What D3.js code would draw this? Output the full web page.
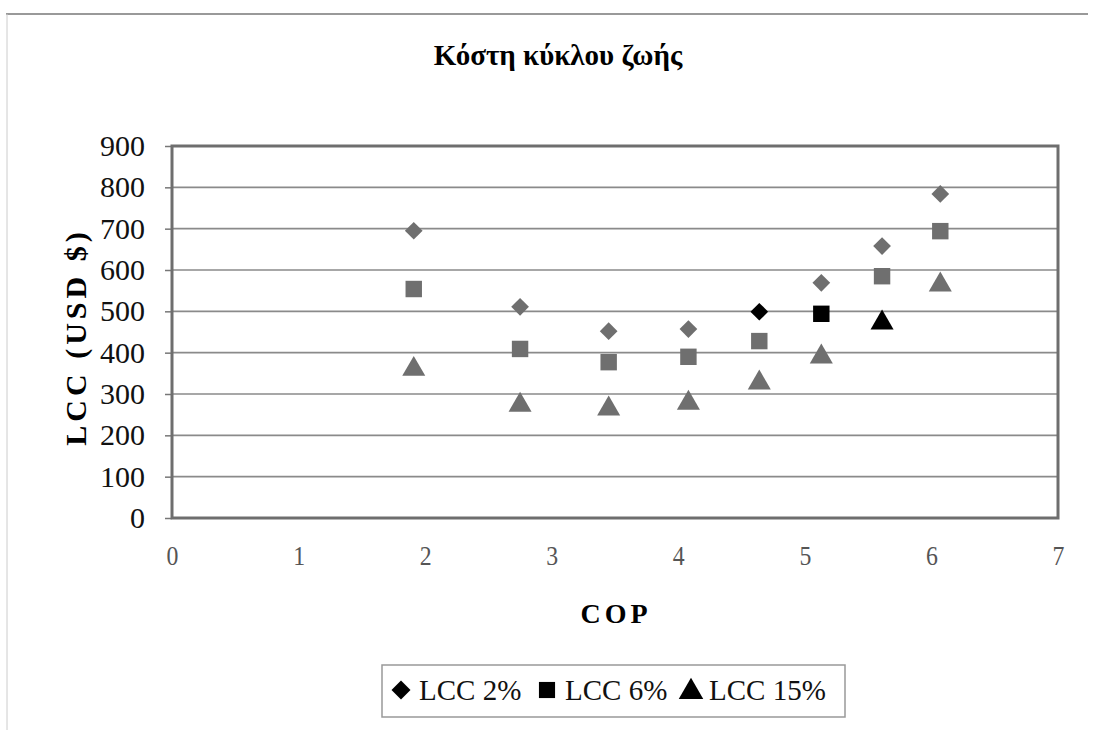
<!DOCTYPE html>
<html><head><meta charset="utf-8">
<script src="https://cdn.jsdelivr.net/npm/d3@7"></script>
<style>body{margin:0;background:#fff}svg{display:block}</style>
</head><body>
<script>
const title = "Κόστη κύκλου ζωής";
const xTitle = "COP";
const yTitle = "LCC (USD $)";
const cop = [1.91, 2.75, 3.45, 4.08, 4.64, 5.13, 5.61, 6.07];
const lcc2 = [695, 511, 452, 457, 499, 569, 658, 784];
const lcc6 = [554, 409, 377, 390, 428, 494, 585, 694];
const lcc15 = [360, 273, 264, 278, 327, 390, 472, 564];
const lcc2Dark = [false, false, false, false, true, false, false, false];
const lcc6Dark = [false, false, false, false, false, true, false, false];
const lcc15Dark = [false, false, false, false, false, false, true, false];
const seriesNames = ["LCC 2%", "LCC 6%", "LCC 15%"];
const xTicks = [0, 1, 2, 3, 4, 5, 6, 7];
const yTicks = [0, 100, 200, 300, 400, 500, 600, 700, 800, 900];

const W = 1093, H = 730;
const svg = d3.select("body").append("svg").attr("width", W).attr("height", H);
const font = "'Liberation Serif', 'Times New Roman', serif";

// outer frame
svg.append("line").attr("x1", 6).attr("x2", 1088).attr("y1", 14).attr("y2", 14).attr("stroke", "#777").attr("stroke-width", 1.5);
svg.append("line").attr("x1", 7).attr("x2", 7).attr("y1", 14).attr("y2", 730).attr("stroke", "#ccc").attr("stroke-width", 1);

const x = d3.scaleLinear().domain([0, 7]).range([172, 1058]);
const y = d3.scaleLinear().domain([0, 900]).range([518, 146]);

// gridlines
svg.append("g").selectAll("line").data(yTicks.slice(1)).join("line")
  .attr("x1", x(0)).attr("x2", x(7)).attr("y1", d => y(d)).attr("y2", d => y(d))
  .attr("stroke", "#8a8a8a").attr("stroke-width", 1.6);

// y axis
const yAxis = svg.append("g").attr("transform", `translate(${x(0)},0)`)
  .call(d3.axisLeft(y).tickValues(yTicks).tickSize(7).tickPadding(20).tickFormat(d3.format("d")));
yAxis.select(".domain").remove();
yAxis.selectAll("line").attr("stroke", "#777").attr("stroke-width", 1.5);
yAxis.selectAll("text").attr("font-family", font).attr("font-size", 30).attr("fill", "#111");

// x axis
const xAxis = svg.append("g").attr("transform", `translate(0,${y(0)})`)
  .call(d3.axisBottom(x).tickValues(xTicks).tickSize(0).tickPadding(27).tickFormat(d3.format("d")));
xAxis.select(".domain").remove();
xAxis.selectAll("text").attr("font-family", font).attr("font-size", 28).attr("fill", "#555")
  .attr("transform", "scale(0.85,1)");

// plot border
svg.append("rect").attr("x", x(0)).attr("y", y(900)).attr("width", x(7) - x(0)).attr("height", y(0) - y(900))
  .attr("fill", "none").attr("stroke", "#6e6e6e").attr("stroke-width", 3);

const sym = {
  diamond: d3.symbol().type(d3.symbolDiamond2).size(200),
  square: d3.symbol().type(d3.symbolSquare).size(270),
  triangle: d3.symbol().type(d3.symbolTriangle).size(230)
};
const series = [
  {vals: lcc2, dark: lcc2Dark, s: sym.diamond},
  {vals: lcc6, dark: lcc6Dark, s: sym.square},
  {vals: lcc15, dark: lcc15Dark, s: sym.triangle}
];
series.forEach(se => {
  svg.append("g").selectAll("path").data(cop.map((c, i) => ({c, v: se.vals[i], dk: se.dark[i]}))).join("path")
    .attr("d", se.s)
    .attr("transform", d => `translate(${x(d.c)},${y(d.v)})`)
    .attr("fill", d => d.dk ? "#000" : "#6f6f6f");
});

// titles
svg.append("text").attr("x", 558).attr("y", 65).attr("text-anchor", "middle")
  .attr("font-family", font).attr("font-weight", "bold").attr("font-size", 29).text(title);
svg.append("text").attr("x", 616).attr("y", 623).attr("text-anchor", "middle")
  .attr("font-family", font).attr("font-weight", "bold").attr("font-size", 28).attr("letter-spacing", 4).text(xTitle);
svg.append("text").attr("transform", "translate(86,337) rotate(-90)").attr("text-anchor", "middle")
  .attr("font-family", font).attr("font-weight", "bold").attr("font-size", 30).attr("letter-spacing", 4).text(yTitle);

// legend
const lg = svg.append("g");
lg.append("rect").attr("x", 382).attr("y", 665).attr("width", 463).attr("height", 52)
  .attr("fill", "#fff").attr("stroke", "#999").attr("stroke-width", 1.5);
const legSyms = [
  d3.symbol().type(d3.symbolDiamond2).size(230),
  d3.symbol().type(d3.symbolSquare).size(260),
  d3.symbol().type(d3.symbolTriangle).size(260)
];
const legX = [401, 547, 691];
seriesNames.forEach((n, i) => {
  lg.append("path").attr("d", legSyms[i]).attr("transform", `translate(${legX[i]},${i === 2 ? 692 : 690})`).attr("fill", "#000");
  lg.append("text").attr("x", legX[i] + 18).attr("y", 700).attr("font-family", font).attr("font-size", 29).attr("fill", "#111").text(n);
});
</script>
</body></html>
